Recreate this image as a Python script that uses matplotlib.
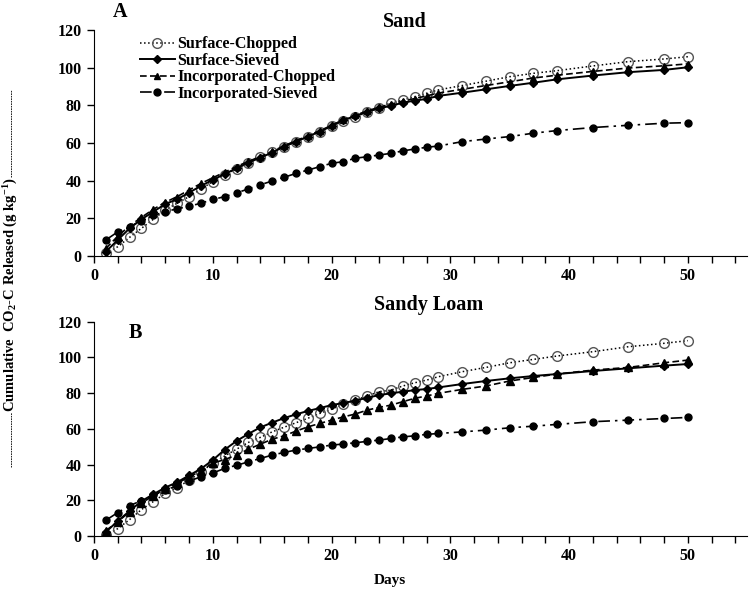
import numpy as np
import matplotlib
matplotlib.use("Agg")
import matplotlib.pyplot as plt
from matplotlib.lines import Line2D
from matplotlib.ticker import MultipleLocator

plt.rcParams['font.family'] = ['Liberation Serif', 'DejaVu Serif']
plt.rcParams['font.weight'] = 'bold'
plt.rcParams['mathtext.fontset'] = 'custom'
plt.rcParams['mathtext.rm'] = 'Liberation Serif:bold'
plt.rcParams['mathtext.it'] = 'Liberation Serif:bold'
plt.rcParams['mathtext.default'] = 'rm'

days = list(range(1, 30)) + [31, 33, 35, 37, 39, 42, 45, 48, 50]

# Sand
sand_surface_chopped = [1.5, 4.9, 9.9, 14.7, 19.5, 24.4, 28.0, 31.5, 35.5, 39.5, 43.0, 46.3, 49.5, 52.3, 55.0,
                        58.0, 60.7, 63.3, 66.0, 68.8, 71.5, 74.0, 76.3, 78.5, 81.4, 82.8, 84.6, 86.4, 88.2,
                        90.5, 92.8, 95.2, 97.0, 98.4, 100.9, 103.2, 104.6, 105.8]
sand_surface_sieved = [2.3, 8.5, 14.7, 19.5, 23.5, 27.6, 30.1, 33.6, 37.2, 40.4, 43.5, 46.6, 49.6, 52.2, 54.9,
                       58.1, 60.7, 63.4, 66.0, 69.0, 72.2, 74.3, 76.6, 78.4, 79.7, 81.4, 82.5, 83.4, 85.0,
                       86.7, 88.5, 90.3, 92.0, 93.8, 95.8, 97.6, 98.8, 100.2]
sand_incorp_chopped = [4.0, 10.5, 16.0, 20.5, 24.8, 28.5, 31.5, 35.0, 38.5, 41.5, 44.5, 47.5, 50.2, 52.8, 55.5,
                       58.5, 61.2, 63.8, 66.5, 69.3, 72.4, 74.7, 77.0, 79.0, 80.6, 82.2, 83.6, 85.0, 86.5,
                       88.5, 90.5, 92.5, 94.5, 96.0, 98.0, 99.8, 101.0, 102.0]
sand_incorp_sieved = [8.5, 12.8, 15.5, 18.8, 21.5, 23.6, 25.0, 26.4, 28.0, 30.0, 31.5, 33.5, 35.6, 37.8, 39.8,
                      41.8, 43.8, 45.6, 47.4, 49.2, 50.1, 51.9, 52.7, 53.6, 54.5, 55.8, 56.8, 57.7, 58.4,
                      60.7, 62.1, 63.4, 65.2, 66.6, 68.2, 69.4, 70.5, 70.8]

# Sandy loam
loam_surface_chopped = [0.6, 4.1, 9.2, 14.8, 19.3, 23.8, 27.1, 31.2, 35.8, 40.8, 44.8, 48.6, 52.4, 55.2, 58.3,
                        60.9, 63.4, 65.9, 68.6, 71.0, 73.9, 76.1, 78.4, 80.8, 81.7, 84.0, 85.8, 87.3, 89.2,
                        92.0, 94.4, 97.0, 98.9, 100.8, 103.2, 106.0, 107.9, 109.4]
loam_surface_sieved = [2.2, 8.4, 14.0, 19.5, 23.4, 27.1, 30.1, 33.9, 37.6, 42.5, 48.3, 53.2, 57.2, 60.8, 63.5,
                       66.0, 68.1, 70.0, 71.6, 73.3, 74.5, 75.8, 77.4, 78.9, 79.9, 80.8, 81.7, 82.3, 83.2,
                       85.1, 86.8, 88.3, 89.6, 90.7, 92.4, 93.9, 95.4, 96.3]
loam_incorp_chopped = [3.0, 8.0, 13.5, 18.5, 22.5, 26.5, 29.5, 33.0, 36.5, 40.8, 42.8, 45.3, 48.6, 51.4, 54.2,
                       56.1, 58.7, 61.1, 63.0, 64.9, 66.7, 68.3, 70.5, 72.0, 73.3, 75.2, 77.1, 78.4, 79.9,
                       82.1, 84.0, 86.8, 88.8, 90.7, 92.9, 94.4, 97.0, 98.5]
loam_incorp_sieved = [8.8, 13.1, 17.0, 19.8, 22.8, 25.6, 28.2, 30.8, 33.1, 35.3, 37.8, 39.6, 41.5, 43.4, 45.3,
                      46.8, 48.1, 49.0, 49.9, 50.9, 51.5, 52.2, 53.0, 53.7, 54.6, 55.5, 56.1, 56.9, 57.4,
                      58.3, 59.3, 60.6, 61.5, 62.5, 64.0, 64.9, 65.8, 66.4]

labels = ['Surface-Chopped', 'Surface-Sieved', 'Incorporated-Chopped', 'Incorporated-Sieved']

styles = [
    dict(color='black', ls=':', lw=1.1, marker='o', ms=7, mfc='none', mec='#555555', mew=1.0),
    dict(color='black', ls='-', lw=1.4, marker='D', ms=4.5, mfc='black', mec='black'),
    dict(color='black', ls=(0, (4, 2)), lw=1.2, marker='^', ms=4, mfc='black', mec='black'),
    dict(color='black', ls=(0, (7, 3, 1.5, 3)), lw=1.2, marker='o', ms=5, mfc='black', mec='black'),
]

fig = plt.figure(figsize=(7.5, 5.89), dpi=100)
ax1 = fig.add_axes([0.1253, 0.5654, 0.871, 0.3837])
ax2 = fig.add_axes([0.1253, 0.0900, 0.871, 0.3638])

sand = [sand_surface_chopped, sand_surface_sieved, sand_incorp_chopped, sand_incorp_sieved]
loam = [loam_surface_chopped, loam_surface_sieved, loam_incorp_chopped, loam_incorp_sieved]

for ax, series, tri in ((ax1, sand, 4), (ax2, loam, 6)):
    for i, (vals, st) in enumerate(zip(series, styles)):
        st = dict(st)
        if i == 2:
            st['ms'] = tri
        ax.plot(days, vals, label=labels[i], **st)
    ax.set_xlim(0, 55)
    ax.set_ylim(0, 120)
    ax.xaxis.set_minor_locator(MultipleLocator(2))
    ax.set_xticks([0, 10, 20, 30, 40, 50])
    ax.yaxis.set_major_locator(MultipleLocator(20))
    ax.spines['top'].set_visible(False)
    ax.spines['right'].set_visible(False)
    ax.tick_params(axis='both', which='both', direction='out', length=5, width=1, labelsize=11.5, pad=4)
    for lab in ax.get_xticklabels() + ax.get_yticklabels():
        lab.set_fontweight('bold')

ax1.legend(loc='upper left', bbox_to_anchor=(0.06, 1.0), frameon=False, fontsize=11.5,
           handlelength=2.2, handletextpad=0.15, labelspacing=0.03, borderaxespad=0)

fig.text(0.54, 0.962, 'Sand', fontsize=14.5, fontweight='bold', ha='center', va='center')
fig.text(0.16, 0.98, 'A', fontsize=14.5, fontweight='bold', ha='center', va='center')
fig.text(0.571, 0.482, 'Sandy Loam', fontsize=14.5, fontweight='bold', ha='center', va='center')
ax2.text(0.063, 0.947, 'B', fontsize=14.5, fontweight='bold', ha='center', va='center', transform=ax2.transAxes)
fig.text(0.52, 0.003, 'Days', fontsize=11, fontweight='bold', ha='center', va='bottom')

fig.text(0.015, 0.50, r'Cumulative  CO$_2$-C Released (g kg$^{-1}$)', rotation=90,
         fontsize=10.5, fontweight='bold', ha='center', va='center')
# dashed decoration around the y label
fig.add_artist(Line2D([0.015, 0.015], [0.699, 0.848], transform=fig.transFigure,
                      color='black', lw=0.6, ls=(0, (2, 1))))
fig.add_artist(Line2D([0.015, 0.015], [0.207, 0.300], transform=fig.transFigure,
                      color='black', lw=0.6, ls=(0, (2, 1))))

fig.savefig('out.png', dpi=100)
